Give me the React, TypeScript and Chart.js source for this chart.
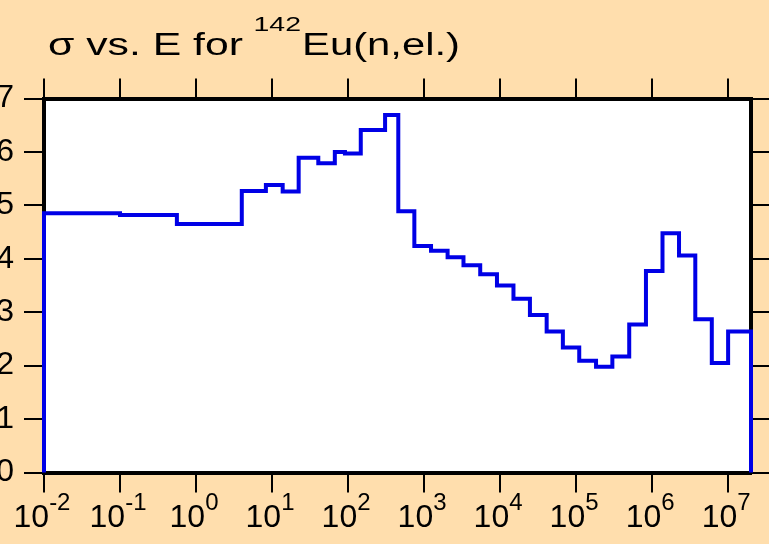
import React, { useEffect, useRef } from 'react';
import { Chart, registerables } from 'chart.js';

Chart.register(...registerables);

// Energy bin edges (eV) and elastic cross section per bin (barns)
const energyEdges = [
  0.01, 0.1, 0.56, 4.0, 8.3, 13.8, 22.4, 40.6, 67, 91, 147, 307, 458, 745, 1235,
  2040, 3300, 5480, 9100, 15000, 24700, 41000, 67000, 110000, 183000, 300000,
  500000, 830000, 1370000, 2260000, 3700000, 6100000, 10000000, 20000000,
];
const crossSection = [
  4.85, 4.82, 4.65, 5.27, 5.38, 5.26, 5.89, 5.79, 6.0, 5.97, 6.41, 6.69, 4.89,
  4.24, 4.15, 4.03, 3.88, 3.71, 3.5, 3.25, 2.95, 2.64, 2.34, 2.09, 1.98, 2.17,
  2.77, 3.77, 4.48, 4.06, 2.87, 2.05, 2.64,
];
const decadeExponents = [-2, -1, 0, 1, 2, 3, 4, 5, 6, 7];
const yTickValues = [0, 1, 2, 3, 4, 5, 6, 7];
const titleLead = 'σ vs. E for';
const titleMass = '142';
const titleTail = 'Eu(n,el.)';

const FONT = '"Liberation Sans", Arial, Helvetica, sans-serif';
const BG = '#ffdead';
const LINE = '#0000e6';

export default function App() {
  const ref = useRef<HTMLCanvasElement>(null);

  useEffect(() => {
    if (!ref.current) return;
    const points: { x: number; y: number }[] = [{ x: energyEdges[0], y: 0 }];
    crossSection.forEach((v, i) => points.push({ x: energyEdges[i], y: v }));
    const last = energyEdges.length - 1;
    points.push({ x: energyEdges[last], y: crossSection[crossSection.length - 1] });
    points.push({ x: energyEdges[last], y: 0 });

    const decadeTicks = (s: any) => {
      s.ticks = decadeExponents.map((k) => ({ value: Math.pow(10, k) }));
    };
    const intTicks = (s: any) => {
      s.ticks = yTickValues.map((v) => ({ value: v }));
    };
    const grid = {
      drawOnChartArea: false,
      drawTicks: true,
      tickLength: 20,
      color: '#000',
      lineWidth: 2,
    };
    const border = { display: true, color: '#000', width: 4 };

    const bgPlugin = {
      id: 'bg',
      beforeDraw(chart: any) {
        const { ctx, chartArea: a, width, height } = chart;
        ctx.save();
        ctx.fillStyle = BG;
        ctx.fillRect(0, 0, width, height);
        ctx.fillStyle = '#fff';
        ctx.fillRect(a.left, a.top, a.right - a.left, a.bottom - a.top);
        ctx.restore();
      },
      afterDraw(chart: any) {
        const ctx = chart.ctx;
        const xs = chart.scales.x;
        ctx.save();
        ctx.fillStyle = '#000';
        ctx.textAlign = 'left';
        ctx.textBaseline = 'alphabetic';
        decadeExponents.forEach((k) => {
          const px = xs.getPixelForValue(Math.pow(10, k));
          ctx.font = `32px ${FONT}`;
          const wb = ctx.measureText('10').width;
          ctx.font = `24px ${FONT}`;
          const exp = String(k);
          const we = ctx.measureText(exp).width;
          const x0 = px - (wb + we) / 2 - 2;
          ctx.font = `32px ${FONT}`;
          ctx.fillText('10', x0, 527);
          ctx.font = `24px ${FONT}`;
          ctx.fillText(exp, x0 + wb, 509.5);
        });
        const stretched = (text: string, font: string, xs0: number, xe: number, base: number) => {
          ctx.font = font;
          const w = ctx.measureText(text).width;
          ctx.save();
          ctx.translate(xs0, base);
          ctx.scale((xe - xs0) / w, 1);
          ctx.fillText(text, 0, 0);
          ctx.restore();
        };
        stretched(titleLead, `31px ${FONT}`, 48, 243, 55);
        stretched(titleMass, `21px ${FONT}`, 253.5, 301, 31);
        stretched(titleTail, `31px ${FONT}`, 302, 460, 55);
        ctx.restore();
      },
    };

    const chart = new Chart(ref.current, {
      type: 'scatter',
      data: {
        datasets: [
          {
            data: points,
            showLine: true,
            stepped: true,
            borderColor: LINE,
            borderWidth: 4,
            borderJoinStyle: 'miter',
            borderCapStyle: 'butt',
            pointRadius: 0,
            pointHoverRadius: 0,
            fill: false,
            clip: false,
          } as any,
        ],
      },
      options: {
        responsive: false,
        animation: false,
        devicePixelRatio: 1,
        layout: { padding: 0 },
        plugins: {
          legend: { display: false },
          title: { display: false },
          tooltip: { enabled: false },
        },
        events: [],
        scales: {
          x: {
            type: 'logarithmic',
            position: 'bottom',
            min: 0.01,
            max: 2e7,
            afterBuildTicks: decadeTicks,
            ticks: { display: false },
            grid,
            border,
            afterFit: (s: any) => {
              s.height = 71.5;
            },
          },
          x2: {
            type: 'logarithmic',
            position: 'top',
            min: 0.01,
            max: 2e7,
            afterBuildTicks: decadeTicks,
            ticks: { display: false },
            grid,
            border,
            afterFit: (s: any) => {
              s.height = 98.5;
            },
          },
          y: {
            type: 'linear',
            position: 'left',
            min: 0,
            max: 7,
            afterBuildTicks: intTicks,
            ticks: {
              display: true,
              color: '#000',
              padding: 10,
              font: { family: FONT, size: 32 },
            },
            grid,
            border,
            afterFit: (s: any) => {
              s.width = 44;
            },
          },
          y2: {
            type: 'linear',
            position: 'right',
            min: 0,
            max: 7,
            afterBuildTicks: intTicks,
            ticks: { display: false },
            grid,
            border,
            afterFit: (s: any) => {
              s.width = 18;
            },
          },
        } as any,
      },
      plugins: [bgPlugin],
    });
    return () => chart.destroy();
  }, []);

  return (
    <div
      style={{
        position: 'fixed',
        left: 0,
        top: 0,
        width: 769,
        height: 544,
        background: BG,
      }}
    >
      <canvas ref={ref} width={769} height={544} style={{ display: 'block' }} />
    </div>
  );
}
